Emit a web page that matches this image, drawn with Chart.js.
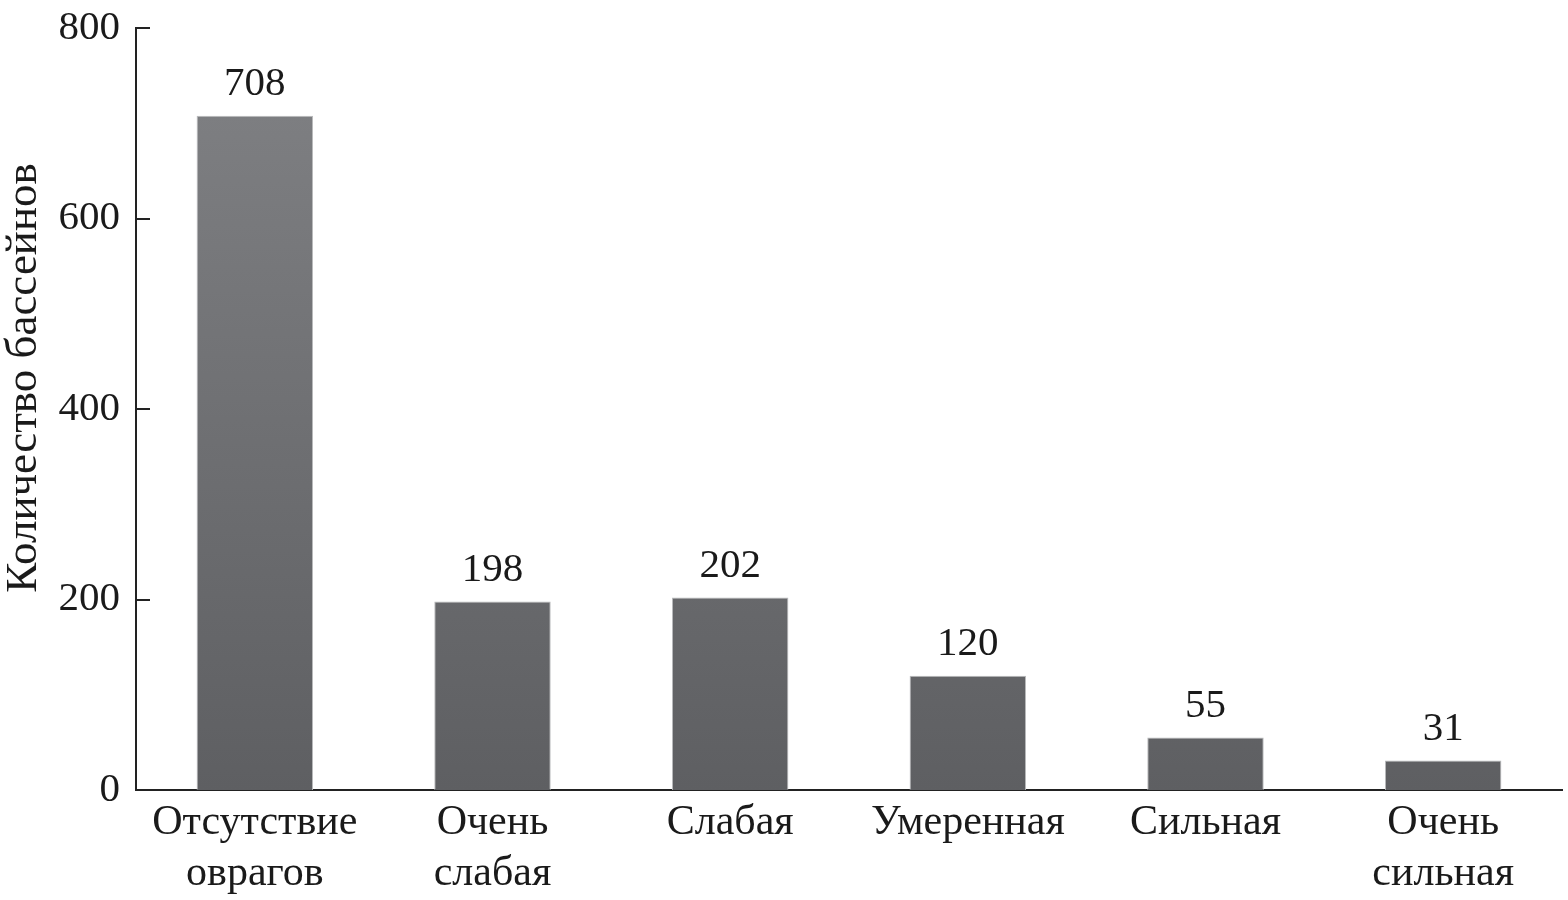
<!DOCTYPE html>
<html>
<head>
<meta charset="utf-8">
<script src="https://cdn.jsdelivr.net/npm/chart.js@4"></script>
<style>
    body { margin: 0; background: #fff; }
    #wrap { width: 1568px; height: 900px; }
</style>
</head>
<body>
<div id="wrap"><canvas id="myChart" width="1568" height="900"></canvas></div>
<script>
const categories = [
    ['Отсутствие', 'оврагов'],
    ['Очень', 'слабая'],
    'Слабая',
    'Умеренная',
    'Сильная',
    ['Очень', 'сильная']
];
const basinCounts = [708, 198, 202, 120, 55, 31];
const yTicks = [0, 200, 400, 600, 800];
const yTitle = 'Количество бассейнов';

const FONT = '"Liberation Serif", "Times New Roman", serif';

function barGradient(context) {
    const chart = context.chart;
    const area = chart.chartArea;
    if (!area) return '#707174';
    const el = context.element;
    const top = el && el.y !== undefined ? el.y : area.top;
    const bottom = el && el.base !== undefined ? el.base : area.bottom;
    const g = chart.ctx.createLinearGradient(0, top, 0, bottom);
    g.addColorStop(0, '#818285');
    g.addColorStop(1, '#5e5f62');
    return g;
}

// value labels, inner y ticks and the rotated axis title
const extras = {
    id: 'extras',
    afterDatasetsDraw(chart) {
        const ctx = chart.ctx;
        const meta = chart.getDatasetMeta(0);
        ctx.save();
        ctx.fillStyle = '#1a1a1a';
        ctx.font = '41px ' + FONT;
        ctx.textAlign = 'center';
        ctx.textBaseline = 'bottom';
        meta.data.forEach((bar, i) => {
            ctx.fillText(basinCounts[i], bar.x, bar.y - 11);
        });

        const y = chart.scales.y;
        const x0 = chart.chartArea.left;
        ctx.strokeStyle = '#222';
        ctx.lineWidth = 2;
        yTicks.forEach(v => {
            const py = Math.round(y.getPixelForValue(v));
            ctx.beginPath();
            ctx.moveTo(x0, py);
            ctx.lineTo(x0 + 14, py);
            ctx.stroke();
        });

        ctx.translate(24, 378);
        ctx.rotate(-Math.PI / 2);
        ctx.textBaseline = 'middle';
        ctx.font = '45px ' + FONT;
        ctx.fillText(yTitle, 0, 0);
        ctx.restore();
    }
};

const ctx = document.getElementById('myChart').getContext('2d');
new Chart(ctx, {
    type: 'bar',
    data: {
        labels: categories,
        datasets: [{
            data: basinCounts,
            backgroundColor: barGradient,
            borderColor: '#b9babc',
            borderWidth: 1,
            barPercentage: 0.49,
            categoryPercentage: 1
        }]
    },
    options: {
        responsive: false,
        animation: false,
        layout: { padding: { top: 28, right: 6, bottom: 0, left: 0 } },
        plugins: {
            legend: { display: false },
            tooltip: { enabled: false }
        },
        scales: {
            x: {
                grid: { display: false, drawTicks: false },
                border: { display: true, color: '#222', width: 2 },
                ticks: {
                    color: '#1a1a1a',
                    font: { family: FONT, size: 42 },
                    padding: 8,
                    maxRotation: 0,
                    autoSkip: false
                },
                afterFit(scale) { scale.height = 110; }
            },
            y: {
                min: 0,
                max: 800,
                afterBuildTicks(scale) { scale.ticks = yTicks.map(v => ({ value: v })); },
                grid: { display: false, drawTicks: false },
                border: { display: true, color: '#222', width: 2 },
                ticks: {
                    color: '#1a1a1a',
                    font: { family: FONT, size: 41, lineHeight: 0.8 },
                    padding: 16
                },
                afterFit(scale) {
                    scale.width = 136;
                    scale.paddingTop = 0;
                }
            }
        }
    },
    plugins: [extras]
});
</script>
</body>
</html>
